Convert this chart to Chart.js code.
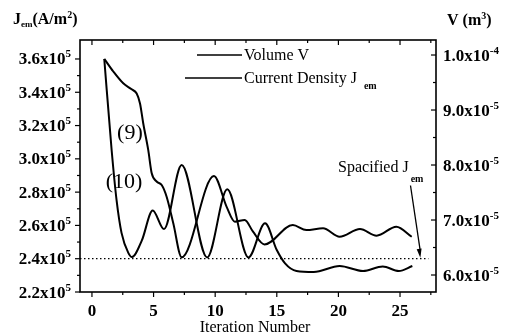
<!DOCTYPE html>
<html>
<head>
<meta charset="utf-8">
<script src="https://cdn.jsdelivr.net/npm/chart.js@4.4.0/dist/chart.umd.min.js"></script>
<style>
  html, body { margin: 0; padding: 0; background: #fff; }
  canvas { display: block; }
</style>
</head>
<body>
<canvas id="chart" width="509" height="336"></canvas>
<script>
// Current density J_em (A/m^2), curve (10)
const jemIter   = [1.0, 1.6, 2.0, 2.4, 2.95, 3.25, 4.05, 4.93, 5.85, 7.28, 9.35, 10.98, 12.7, 14.05, 15.0, 15.67, 16.6, 18.0, 20.1, 22.0, 23.6, 24.9, 26.0];
const jemValues = [3.60e5, 3.05e5, 2.75e5, 2.555e5, 2.435e5, 2.41e5, 2.51e5, 2.69e5, 2.578e5, 2.963e5, 2.408e5, 2.817e5, 2.408e5, 2.613e5, 2.452e5, 2.372e5, 2.326e5, 2.32e5, 2.356e5, 2.326e5, 2.353e5, 2.326e5, 2.356e5];

// Volume V (m^3), curve (9)
const volIter   = [1.0, 1.73, 2.54, 3.22, 3.63, 3.9, 4.16, 4.57, 4.85, 5.25, 5.66, 6.06, 6.6, 7.28, 9.9, 10.93, 11.6, 12.4, 13.07, 14.0, 16.3, 17.4, 18.75, 20.1, 21.75, 23.1, 24.7, 25.95];
const volValues = [9.93e-5, 9.70e-5, 9.485e-5, 9.376e-5, 9.30e-5, 9.12e-5, 8.76e-5, 8.27e-5, 7.85e-5, 7.70e-5, 7.636e-5, 7.424e-5, 6.94e-5, 6.322e-5, 7.80e-5, 7.24e-5, 6.97e-5, 7.00e-5, 6.787e-5, 6.555e-5, 6.909e-5, 6.818e-5, 6.849e-5, 6.696e-5, 6.836e-5, 6.715e-5, 6.878e-5, 6.696e-5];

// specified J_em (dotted line)
const specJem  = 2.4e5;
const specIter = [-0.97, 27.3];

const iterTicks = [0, 5, 10, 15, 20, 25];
const jemTicks  = [2.2e5, 2.4e5, 2.6e5, 2.8e5, 3.0e5, 3.2e5, 3.4e5, 3.6e5];
const jemLabels = ['2.2', '2.4', '2.6', '2.8', '3.0', '3.2', '3.4', '3.6'];
const volTicks  = [6e-5, 7e-5, 8e-5, 9e-5, 1e-4];
const volLabels = [['6.0', '-5'], ['7.0', '-5'], ['8.0', '-5'], ['9.0', '-5'], ['1.0', '-4']];

const SERIF = "'Liberation Serif', 'Times New Roman', serif";
const f = (size, bold) => (bold ? 'bold ' : '') + size + 'px ' + SERIF;

// draw a run of text pieces (base / sub / superscript) from a baseline
function rich(ctx, x, y, parts, align) {
  let w = 0;
  parts.forEach(p => { ctx.font = p.font; p.w = ctx.measureText(p.t).width + (p.gap || 0); w += p.w; });
  let cx = align === 'right' ? x - w : align === 'center' ? x - w / 2 : x;
  ctx.textAlign = 'left';
  ctx.textBaseline = 'alphabetic';
  parts.forEach(p => {
    ctx.font = p.font;
    ctx.fillText(p.t, cx + (p.gap || 0), y + (p.dy || 0));
    cx += p.w;
  });
}

const frame = {
  id: 'frame',
  afterDraw(chart) {
    const { ctx, chartArea: a, scales: { x, yJ, yV } } = chart;
    ctx.save();
    ctx.fillStyle = '#000';
    ctx.strokeStyle = '#000';

    // box
    ctx.lineWidth = 1.6;
    ctx.strokeRect(a.left, a.top, a.right - a.left, a.bottom - a.top);

    // ticks
    ctx.lineWidth = 1.2;
    const line = (x1, y1, x2, y2) => { ctx.beginPath(); ctx.moveTo(x1, y1); ctx.lineTo(x2, y2); ctx.stroke(); };
    const mids = arr => arr.slice(1).map((v, i) => (v + arr[i]) / 2);

    iterTicks.forEach(v => {
      const px = x.getPixelForValue(v);
      line(px, a.bottom, px, a.bottom + 5);
      line(px, a.top, px, a.top + 5);
    });
    mids(iterTicks).concat([27.5]).forEach(v => {
      const px = x.getPixelForValue(v);
      line(px, a.bottom, px, a.bottom + 3);
      line(px, a.top, px, a.top + 3);
    });
    jemTicks.forEach(v => { const py = yJ.getPixelForValue(v); line(a.left - 5, py, a.left, py); });
    mids(jemTicks).forEach(v => { const py = yJ.getPixelForValue(v); line(a.left - 3, py, a.left, py); });
    volTicks.forEach(v => { const py = yV.getPixelForValue(v); line(a.right - 5, py, a.right, py); });
    mids(volTicks).forEach(v => { const py = yV.getPixelForValue(v); line(a.right - 3, py, a.right, py); });

    // tick labels
    jemTicks.forEach((v, i) => {
      const py = yJ.getPixelForValue(v);
      rich(ctx, a.left - 9, py + 5.5, [
        { t: jemLabels[i] + 'x10', font: f(17, true) },
        { t: '5', font: f(11, true), dy: -7 }
      ], 'right');
    });
    volTicks.forEach((v, i) => {
      const py = yV.getPixelForValue(v);
      rich(ctx, a.right + 7, py + 5.5, [
        { t: volLabels[i][0] + 'x10', font: f(17, true) },
        { t: volLabels[i][1], font: f(11, true), dy: -7 }
      ], 'left');
    });
    iterTicks.forEach(v => {
      const px = x.getPixelForValue(v);
      rich(ctx, px, a.bottom + 24, [{ t: String(v), font: f(17, true) }], 'center');
    });

    // axis titles
    rich(ctx, 13, 24, [
      { t: 'J', font: f(16, true) },
      { t: 'em', font: f(9, true), dy: 3 },
      { t: '(A/m', font: f(16, true) },
      { t: '2', font: f(10, true), dy: -6 },
      { t: ')', font: f(16, true) }
    ], 'left');
    rich(ctx, 447, 25, [
      { t: 'V (m', font: f(16, true) },
      { t: '3', font: f(10, true), dy: -6 },
      { t: ')', font: f(16, true) }
    ], 'left');
    rich(ctx, 255, 332, [{ t: 'Iteration Number', font: f(16, false) }], 'center');

    // legend
    ctx.lineWidth = 1.6;
    line(197, 55, 242, 55);
    line(185, 78, 242, 78);
    rich(ctx, 244, 60, [{ t: 'Volume V', font: f(16, false) }], 'left');
    rich(ctx, 244, 83, [
      { t: 'Current Density J', font: f(16, false) },
      { t: 'em', font: f(10, true), dy: 6, gap: 7 }
    ], 'left');

    // curve labels
    rich(ctx, x.getPixelForValue(3.08), yJ.getPixelForValue(3.16e5) + 7, [{ t: '(9)', font: f(22, false) }], 'center');
    rich(ctx, x.getPixelForValue(2.6), yJ.getPixelForValue(2.867e5) + 7, [{ t: '(10)', font: f(22, false) }], 'center');

    // specified J_em annotation
    rich(ctx, x.getPixelForValue(19.97), yJ.getPixelForValue(2.921e5), [
      { t: 'Spacified J', font: f(16, false) },
      { t: 'em', font: f(10, true), dy: 10, gap: 2 }
    ], 'left');
    const x1 = x.getPixelForValue(25.85), y1 = yJ.getPixelForValue(2.84e5);
    const x2 = x.getPixelForValue(26.65), y2 = yJ.getPixelForValue(specJem) - 1;
    ctx.lineWidth = 1.3;
    line(x1, y1, x2, y2 - 6);
    const ang = Math.atan2(y2 - y1, x2 - x1);
    ctx.beginPath();
    ctx.moveTo(x2, y2);
    ctx.lineTo(x2 - 9 * Math.cos(ang) + 2.5 * Math.sin(ang), y2 - 9 * Math.sin(ang) - 2.5 * Math.cos(ang));
    ctx.lineTo(x2 - 9 * Math.cos(ang) - 2.5 * Math.sin(ang), y2 - 9 * Math.sin(ang) + 2.5 * Math.cos(ang));
    ctx.closePath();
    ctx.fill();

    ctx.restore();
  }
};

const toXY = (xs, ys) => xs.map((v, i) => ({ x: v, y: ys[i] }));

new Chart(document.getElementById('chart'), {
  type: 'line',
  data: {
    datasets: [
      {
        label: 'Volume V',
        data: toXY(volIter, volValues),
        yAxisID: 'yV',
        borderColor: '#000',
        borderWidth: 2,
        pointRadius: 0,
        cubicInterpolationMode: 'monotone'
      },
      {
        label: 'Current Density Jem',
        data: toXY(jemIter, jemValues),
        yAxisID: 'yJ',
        borderColor: '#000',
        borderWidth: 2,
        pointRadius: 0,
        cubicInterpolationMode: 'monotone'
      },
      {
        label: 'Spacified Jem',
        data: toXY(specIter, [specJem, specJem]),
        yAxisID: 'yJ',
        borderColor: '#000',
        borderWidth: 1.2,
        borderDash: [1.5, 2.5],
        pointRadius: 0
      }
    ]
  },
  options: {
    responsive: false,
    animation: false,
    devicePixelRatio: 1,
    layout: { padding: { left: 80, right: 73, top: 40, bottom: 44 } },
    plugins: { legend: { display: false }, tooltip: { enabled: false } },
    scales: {
      x: { type: 'linear', min: -0.97, max: 27.92, display: false },
      yJ: { type: 'linear', position: 'left', min: 2.2e5, max: 3.714e5, display: false },
      yV: { type: 'linear', position: 'right', min: 5.691e-5, max: 10.273e-5, display: false }
    }
  },
  plugins: [frame]
});
</script>
</body>
</html>
